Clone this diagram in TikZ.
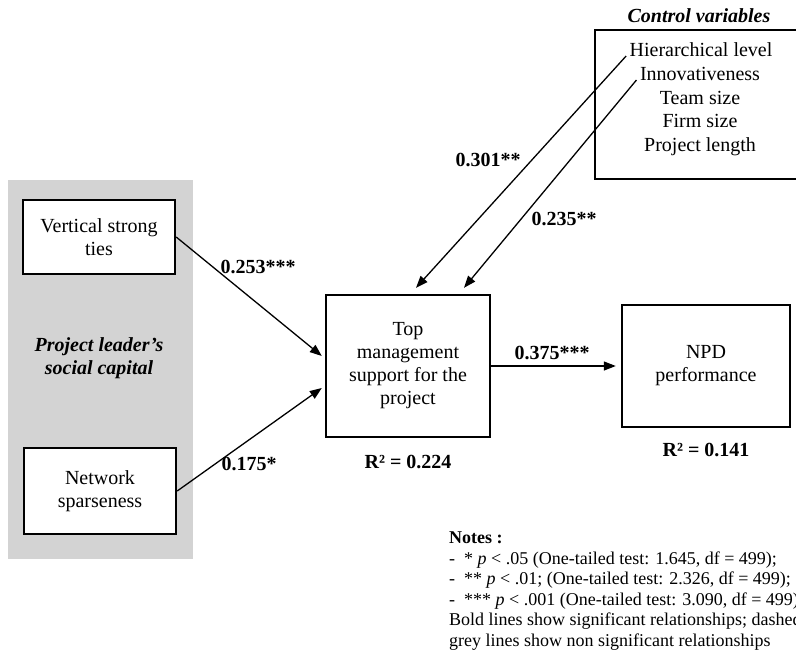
\documentclass[tikz,border=0pt]{standalone}
\usepackage{fontspec}
\setmainfont{Liberation Serif}
\usetikzlibrary{arrows.meta}
\definecolor{panelgrey}{RGB}{211,211,211}
\begin{document}
\begin{tikzpicture}[x=1pt,y=-1pt,
  every node/.style={font=\fontsize{20}{23}\selectfont},
  box/.style={draw,fill=white,line width=2.4pt,align=center,inner sep=0pt},
  link/.style={line width=1.3pt,-{Triangle[length=12pt,width=9pt]}},
  coef/.style={font=\fontsize{20}{23}\selectfont\bfseries},
  note/.style={anchor=base west,inner sep=0pt,font=\fontsize{18}{20}\selectfont}]
\useasboundingbox (0,0) rectangle (796,657);
\clip (0,0) rectangle (796,657);
\fill[panelgrey] (8,180) rectangle (193,559);

\node[box,minimum width=152pt,minimum height=74pt] (vst) at (99,237) {Vertical strong\\ties};
\node[box,minimum width=152pt,minimum height=86pt] (ns) at (100,491) {Network\\sparseness};
\node[align=center,font=\fontsize{20}{23}\selectfont\bfseries\itshape] (plsc) at (99,358) {Project leader’s\\social capital};

\node[box,minimum width=164pt,minimum height=142pt] (tms) at (408,366) {Top\\management\\support for the\\project};
\node[box,minimum width=168pt,minimum height=122pt] (npd) at (706,366) {NPD\\performance};

\node[draw,fill=white,line width=1.2pt,minimum width=210pt,minimum height=149pt] (ctrl) at (700,104.5) {};
\node[font=\fontsize{20}{23}\selectfont\bfseries\itshape] (ctrltitle) at (699,16) {Control variables};
\node[anchor=base] (hier) at (701,56) {Hierarchical level};
\node[anchor=base] (innov) at (700,80) {Innovativeness};
\node[anchor=base] (team) at (700,104) {Team size};
\node[anchor=base] (firm) at (700,127) {Firm size};
\node[anchor=base] (plen) at (700,151) {Project length};

\draw[link] (vst.east) -- ([xshift=-3pt,yshift=10pt]tms.west);
\draw[link] (ns.east) -- ([xshift=-3pt,yshift=-22pt]tms.west);
\draw[link] (hier.base west) -- ([xshift=8pt,yshift=6pt]tms.north);
\draw[link] (innov.base west) -- ([xshift=56pt,yshift=6pt]tms.north);
\draw[link,shorten >=5pt] (tms.east) -- (npd.west);

\node[coef] (c253) at (258,267) {0.253***};
\node[coef] (c175) at (249,464) {0.175*};
\node[coef] (c301) at (488,160) {0.301**};
\node[coef] (c235) at (564,219) {0.235**};
\node[coef] (c375) at (552,353) {0.375***};
\node[coef] (r2tms) at (408,462) {R² = 0.224};
\node[coef] (r2npd) at (706,450) {R² = 0.141};

\node[note] (notes) at (449,543) {\textbf{Notes :}};
\node[note] (n1) at (449,564) {-\ \ * \textit{p} < .05 (One-tailed test: 1.645, df = 499);};
\node[note] (n2) at (449,584) {-\ \ ** \textit{p} < .01; (One-tailed test: 2.326, df = 499);};
\node[note] (n3) at (449,605) {-\ \ *** \textit{p} < .001 (One-tailed test: 3.090, df = 499);};
\node[note] (n4) at (449,625) {Bold lines show significant relationships; dashed};
\node[note] (n5) at (449,646) {grey lines show non significant relationships};
\end{tikzpicture}
\end{document}
